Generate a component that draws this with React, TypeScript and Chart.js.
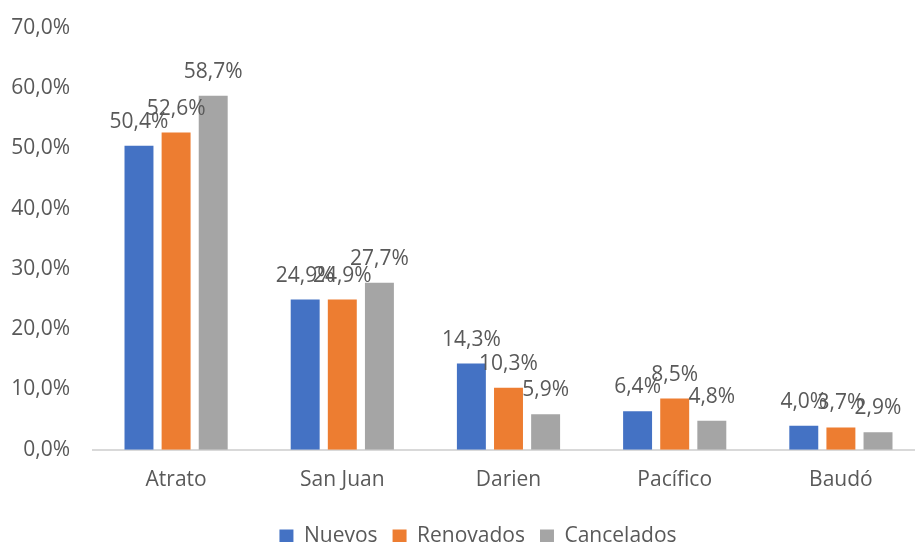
import React, { useEffect, useRef } from "react";
import { Chart, registerables } from "chart.js";

Chart.register(...registerables);

const categories = ["Atrato", "San Juan", "Darien", "Pacífico", "Baudó"];
const nuevos = [50.4, 24.9, 14.3, 6.4, 4.0];
const renovados = [52.6, 24.9, 10.3, 8.5, 3.7];
const cancelados = [58.7, 27.7, 5.9, 4.8, 2.9];
const seriesNames = ["Nuevos", "Renovados", "Cancelados"];

const fmt = (v: number) => v.toFixed(1).replace(".", ",") + "%";
const FONT = "'Open Sans', sans-serif";
const TEXT = "#595959";
const FS = 21;

const dataLabels = {
  id: "dataLabels",
  afterDatasetsDraw(chart: any) {
    const ctx = chart.ctx;
    ctx.save();
    ctx.font = `${FS}px ${FONT}`;
    ctx.fillStyle = TEXT;
    ctx.textAlign = "center";
    ctx.textBaseline = "alphabetic";
    chart.data.datasets.forEach((ds: any, i: number) => {
      const meta = chart.getDatasetMeta(i);
      meta.data.forEach((el: any, j: number) => {
        ctx.fillText(fmt(ds.data[j]), el.x, el.y - 18);
      });
    });
    ctx.restore();
  },
};

const legendShift = {
  id: "legendShift",
  afterLayout(chart: any) {
    const lg = chart.legend;
    if (lg) {
      lg.left += 16;
      lg.right += 16;
    }
  },
};

export default function App() {
  const ref = useRef<HTMLCanvasElement>(null);
  useEffect(() => {
    if (!ref.current) return;
    const chart = new Chart(ref.current, {
      type: "bar",
      data: {
        labels: categories,
        datasets: [
          { label: seriesNames[0], data: nuevos, backgroundColor: "#4472C4" },
          { label: seriesNames[1], data: renovados, backgroundColor: "#ED7D31" },
          { label: seriesNames[2], data: cancelados, backgroundColor: "#A5A5A5" },
        ],
      },
      options: {
        animation: false,
        responsive: true,
        maintainAspectRatio: false,
        datasets: { bar: { categoryPercentage: 0.67, barPercentage: 0.78 } },
        layout: { padding: { left: 0, right: 32, top: 4, bottom: 0 } },
        scales: {
          x: {
            grid: { display: false, drawTicks: false },
            border: { display: true, color: "#D9D9D9", width: 2 },
            ticks: { color: TEXT, font: { family: FONT, size: FS }, padding: 18 },
          },
          y: {
            min: 0,
            max: 70,
            grid: { display: false, drawTicks: false },
            border: { display: false },
            afterFit: (scale: any) => {
              scale.width = 93;
            },
            ticks: {
              stepSize: 10,
              color: TEXT,
              font: { family: FONT, size: FS },
              padding: 23,
              callback: (v: any) => fmt(Number(v)),
            },
          },
        },
        plugins: {
          legend: {
            position: "bottom",
            labels: {
              color: TEXT,
              font: { family: FONT, size: FS },
              boxWidth: 14,
              boxHeight: 14,
              padding: 15,
            },
          },
          tooltip: { enabled: false },
        },
      },
      plugins: [dataLabels, legendShift],
    });
    return () => chart.destroy();
  }, []);
  return (
    <div style={{ position: "fixed", left: 0, top: 0, width: 915, height: 542, overflow: "hidden", background: "#fff" }}>
      <div style={{ position: "relative", top: -8, width: 956, height: 565 }}>
        <canvas ref={ref} />
      </div>
    </div>
  );
}
